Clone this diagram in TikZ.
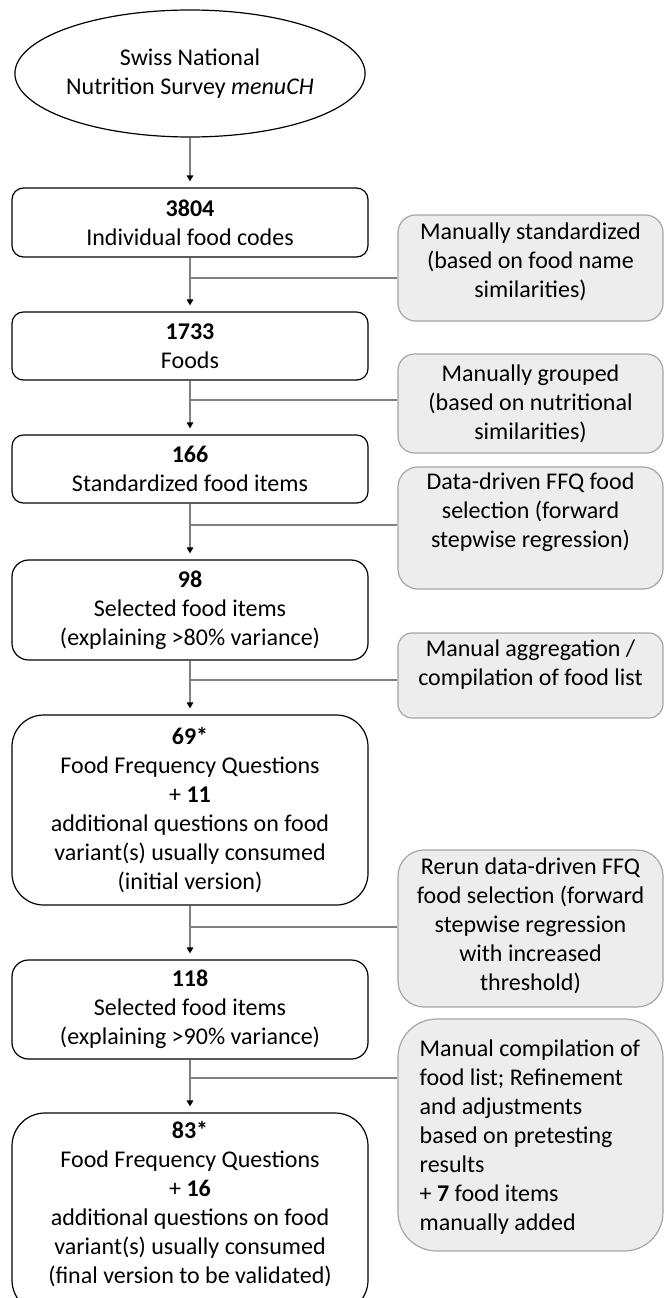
\documentclass[tikz,border=0pt]{standalone}
\usepackage{fontspec}
\setmainfont{Carlito}
\usetikzlibrary{shapes.geometric,arrows.meta}
\definecolor{connc}{RGB}{128,128,128}
\definecolor{sidefill}{RGB}{237,237,237}
\definecolor{sideborder}{RGB}{166,166,166}
\begin{document}
\begin{tikzpicture}[x=1pt,y=-1pt,
  every node/.style={font=\fontsize{24}{29}\selectfont},
  mainbox/.style={draw=black, line width=1.2pt, fill=white, align=center, inner sep=0pt, minimum width=356pt},
  sidebox/.style={draw=sideborder, line width=1.2pt, fill=sidefill, minimum width=265pt, inner sep=0pt},
  sidetext/.style={align=center, inner sep=0pt},
  conn/.style={draw=connc, line width=1.2pt},
  arr/.style={conn, -{Triangle[width=6.5pt,length=6pt,color=black]}, shorten >=6pt}]
\clip (0,0) rectangle (664,1298);
\fill[white] (0,0) rectangle (664,1298);
% source
\node[ellipse, draw=black, line width=1.2pt, minimum width=302pt, minimum height=127pt, align=center, inner sep=0pt] (ell) at (190,73.5) {Swiss National\\Nutrition Survey \textit{menuCH}};
% main boxes
\node[mainbox, minimum height=69pt, rounded corners=11.5pt] (b1) at (190,222.5) {\textbf{3804}\\Individual food codes};
\node[mainbox, minimum height=68pt, rounded corners=11.3pt] (b2) at (190,346) {\textbf{1733}\\Foods};
\node[mainbox, minimum height=68pt, rounded corners=11.3pt] (b3) at (190,469) {\textbf{166}\\Standardized food items};
\node[mainbox, minimum height=100pt, rounded corners=16.7pt] (b4) at (190,610) {\textbf{98}\\Selected food items\\(explaining >80\% variance)};
\node[mainbox, minimum height=190pt, rounded corners=31.7pt] (b5) at (190,810) {\textbf{69*}\\Food Frequency Questions\\+ \textbf{11}\\additional questions on food\\variant(s) usually consumed\\(initial version)};
\node[mainbox, minimum height=99pt, rounded corners=16.5pt] (b6) at (190,1009.5) {\textbf{118}\\Selected food items\\(explaining >90\% variance)};
\node[mainbox, minimum height=200pt, rounded corners=33pt] (b7) at (190,1213) {};
\node[sidetext] (t7) at (190,1204) {\textbf{83*}\\Food Frequency Questions\\+ \textbf{16}\\additional questions on food\\variant(s) usually consumed\\(final version to be validated)};
% side boxes
\node[sidebox, minimum height=106pt, rounded corners=17.7pt] (g1) at (530.5,268) {};
\node[sidetext] (s1) at (530.5,261.5) {Manually standardized\\(based on food name\\similarities)};
\node[sidebox, minimum height=99pt, rounded corners=16.5pt] (g2) at (530.5,403.5) {};
\node[sidetext] (s2) at (530.5,403.5) {Manually grouped\\(based on nutritional\\similarities)};
\node[sidebox, minimum height=122pt, rounded corners=20pt] (g3) at (530.5,528) {};
\node[sidetext] (s3) at (530.5,512) {Data-driven FFQ food\\selection (forward\\stepwise regression)};
\node[sidebox, minimum height=85pt, rounded corners=14pt] (g4) at (530.5,675.5) {};
\node[sidetext] (s4) at (530.5,664.5) {Manual aggregation /\\compilation of food list};
\node[sidebox, minimum height=157pt, rounded corners=26pt] (g5) at (530.5,928.5) {};
\node[sidetext] (s5) at (530.5,926) {Rerun data-driven FFQ\\food selection (forward\\stepwise regression\\with increased\\threshold)};
\node[sidebox, minimum height=232pt, rounded corners=38.7pt] (g6) at (530.5,1135) {};
\node[align=left, inner sep=0pt, anchor=west] (s6) at (419.5,1137) {Manual compilation of\\food list; Refinement\\and adjustments\\based on pretesting\\results\\+ \textbf{7} food items\\manually added};
% junctions
\coordinate (j1) at (190,278);
\coordinate (j2) at (190,400);
\coordinate (j3) at (190,525);
\coordinate (j4) at (190,680);
\coordinate (j5) at (190,927);
\coordinate (j6) at (190,1078);
% connectors
\draw[arr] (ell.south) -- (b1.north);
\draw[arr] (b1.south) -- (b2.north);
\draw[arr] (b2.south) -- (b3.north);
\draw[arr] (b3.south) -- (b4.north);
\draw[arr] (b4.south) -- (b5.north);
\draw[arr] (b5.south) -- (b6.north);
\draw[arr] (b6.south) -- (b7.north);
\draw[conn] (j1) -- (g1.west |- j1);
\draw[conn] (j2) -- (g2.west |- j2);
\draw[conn] (j3) -- (g3.west |- j3);
\draw[conn] (j4) -- (g4.west |- j4);
\draw[conn] (j5) -- (g5.west |- j5);
\draw[conn] (j6) -- (g6.west |- j6);
\end{tikzpicture}
\end{document}
